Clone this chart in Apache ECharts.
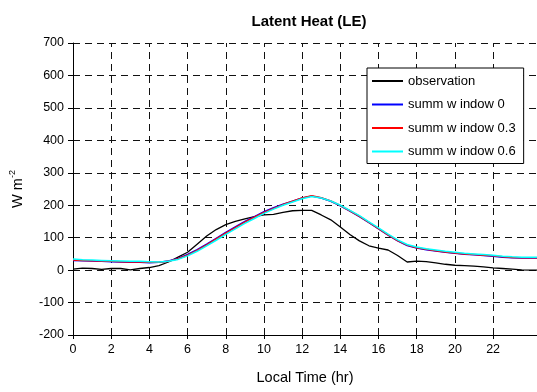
<!DOCTYPE html>
<html>
<head>
<meta charset="utf-8">
<script src="https://cdn.jsdelivr.net/npm/echarts@6/dist/echarts.min.js"></script>
<style>
  html, body { margin: 0; padding: 0; background: #fff; }
  #main { width: 537px; height: 392px; }
</style>
</head>
<body>
<div id="main"></div>
<script>
// half-hourly local time (hr)
var hours = [0, 0.5, 1, 1.5, 2, 2.5, 3, 3.5, 4, 4.5, 5, 5.5, 6, 6.5, 7, 7.5, 8, 8.5, 9, 9.5,
  10, 10.5, 11, 11.5, 12, 12.5, 13, 13.5, 14, 14.5, 15, 15.5, 16, 16.5, 17, 17.5, 18, 18.5, 19, 19.5,
  20, 20.5, 21, 21.5, 22, 22.5, 23, 23.5, 24, 24.3];

var observation = [3, 6, 5, 2, 5, 5, 1, 5, 8, 14, 25, 40, 55, 80, 105, 125, 140, 150, 158, 165,
  170, 172, 178, 183, 184, 184, 170, 155, 133, 110, 90, 75, 68, 62, 45, 25, 28, 26, 22, 18,
  15, 14, 12, 10, 7, 5, 3, 1, 0, 0];

var window0 = [30, 29, 28, 27, 26, 25, 24, 24, 23, 24, 28, 36, 48, 63, 80, 98, 116, 133, 150, 165,
  180, 192, 203, 212, 222, 228, 222, 212, 198, 182, 165, 146, 127, 108, 90, 76, 68, 63, 59, 55,
  52, 49, 47, 45, 43, 40, 38, 37, 37, 37];

var window03 = [31, 30, 29, 28, 27, 26, 25, 25, 24, 24, 27, 35, 46, 61, 78, 96, 114, 131, 148, 163,
  178, 190, 202, 212, 222, 229, 223, 213, 199, 183, 166, 147, 128, 109, 91, 77, 69, 64, 60, 56,
  53, 50, 48, 46, 44, 41, 39, 38, 38, 38];

var window06 = [34, 32, 31, 30, 29, 28, 27, 27, 26, 25, 27, 33, 44, 58, 75, 92, 110, 127, 144, 159,
  175, 188, 200, 210, 220, 227, 222, 213, 200, 184, 168, 149, 130, 111, 93, 79, 71, 66, 62, 58,
  55, 52, 50, 48, 46, 43, 41, 40, 40, 40];

var hourTicks = [0, 2, 4, 6, 8, 10, 12, 14, 16, 18, 20, 22];
var legendNames = ['observation', 'summ w indow 0', 'summ w indow 0.3', 'summ w indow 0.6'];

function pairs(ys) {
  var out = [];
  for (var i = 0; i < hours.length; i++) out.push([hours[i], ys[i]]);
  return out;
}

var chart = echarts.init(document.getElementById('main'));
var font = 'Liberation Sans, Arial, sans-serif';

var gridDash = { color: '#111', width: 1, type: [7, 5] };

chart.setOption({
  animation: false,
  backgroundColor: '#fff',
  textStyle: { fontFamily: font, color: '#000' },
  title: {
    text: 'Latent Heat (LE)',
    left: 304,
    top: 9,
    textAlign: 'center',
    textStyle: { fontFamily: font, fontSize: 15, fontWeight: 'bold', color: '#000' }
  },
  legend: {
    orient: 'vertical',
    left: 367,
    top: 68,
    width: 156,
    padding: [6, 8, 5, 5],
    itemGap: 9.5,
    itemWidth: 31,
    itemHeight: 2,
    icon: 'rect',
    backgroundColor: '#fff',
    borderColor: '#000',
    borderWidth: 1,
    textStyle: { fontFamily: font, fontSize: 13, color: '#000', lineHeight: 14 },
    data: legendNames
  },
  grid: { left: 69, right: 0, top: 43, bottom: 57, containLabel: false },
  xAxis: {
    type: 'value',
    min: 0,
    max: 24.3,
    interval: 2,
    name: 'Local Time (hr)',
    nameLocation: 'middle',
    nameGap: 35,
    nameTextStyle: { fontFamily: font, fontSize: 14.5, color: '#000' },
    axisLine: { onZero: false, lineStyle: { color: '#000', width: 1 } },
    axisTick: { customValues: hourTicks, length: 4, lineStyle: { color: '#000' } },
    axisLabel: { customValues: hourTicks, fontFamily: font, fontSize: 12.5, color: '#000', margin: 8 },
    splitLine: { show: false }
  },
  yAxis: {
    type: 'value',
    min: -200,
    max: 700,
    interval: 100,
    name: '{b|W m}{s|-2}',
    nameLocation: 'middle',
    nameGap: 46,
    nameRotate: 90,
    nameTextStyle: {
      fontFamily: font,
      rich: {
        b: { fontFamily: font, fontSize: 14.5, color: '#000' },
        s: { fontFamily: font, fontSize: 9, color: '#000', padding: [0, 0, 10, 0] }
      }
    },
    axisLine: { show: true, lineStyle: { color: '#000', width: 1 } },
    axisTick: { show: true, length: 5, lineStyle: { color: '#000' } },
    axisLabel: { fontFamily: font, fontSize: 12.5, color: '#000', margin: 9 },
    splitLine: { show: true, lineStyle: gridDash }
  },
  series: [
    {
      name: legendNames[0],
      type: 'line',
      data: pairs(observation),
      symbol: 'none',
      lineStyle: { color: '#000', width: 1.3 },
      itemStyle: { color: '#000' },
      markLine: {
        silent: true,
        symbol: 'none',
        label: { show: false },
        lineStyle: gridDash,
        z: 1,
        data: hourTicks.slice(1).map(function (h) { return { xAxis: h }; })
      }
    },
    {
      name: legendNames[1],
      type: 'line',
      data: pairs(window0),
      symbol: 'none',
      lineStyle: { color: '#0000ff', width: 1.5 },
      itemStyle: { color: '#0000ff' }
    },
    {
      name: legendNames[2],
      type: 'line',
      data: pairs(window03),
      symbol: 'none',
      lineStyle: { color: '#ff0000', width: 1.5 },
      itemStyle: { color: '#ff0000' }
    },
    {
      name: legendNames[3],
      type: 'line',
      data: pairs(window06),
      symbol: 'none',
      lineStyle: { color: '#00ffff', width: 1.5 },
      itemStyle: { color: '#00ffff' }
    }
  ]
});
</script>
</body>
</html>
